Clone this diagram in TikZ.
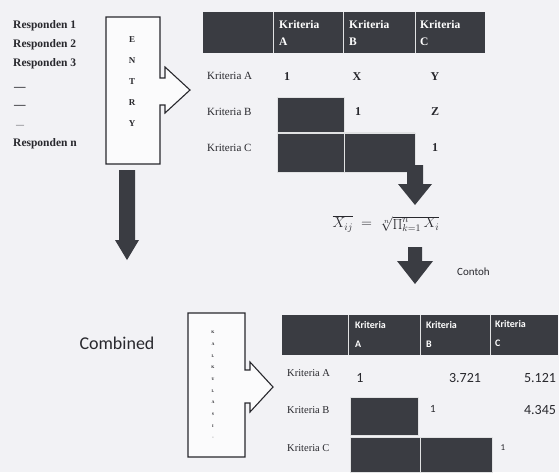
\documentclass[tikz,border=0pt]{standalone}
\usepackage{fontspec}
\setmainfont{Liberation Serif}
\newfontfamily\carl{Carlito}
\definecolor{dk}{RGB}{58,60,66}
\definecolor{bg}{RGB}{242,242,245}
\definecolor{ink}{RGB}{40,40,45}
\begin{document}
\begin{tikzpicture}[x=1pt,y=-1pt,
  resp/.style={anchor=west,inner sep=0,text=ink,font=\fontsize{11.5}{12}\selectfont\bfseries},
  boxline/.style={draw=ink,line width=1.1pt,fill=white!70!bg,line join=miter},
  blockarrow/.style={fill=dk,draw=none},
  darkcell/.style={fill=dk,draw=white!85!dk,line width=0.6pt},
  hdrfill/.style={fill=dk},
  sepline/.style={draw=white!85!dk,line width=1pt},
  hdrtxt/.style={anchor=west,align=left,inner sep=0,text=white},
  lbl/.style={anchor=west,inner sep=0,text=ink},
  val/.style={inner sep=0,text=ink}]
\fill[bg] (0,0) rectangle (559,472);
\useasboundingbox (0,0) rectangle (559,472);

% ---- Responden list
\node[resp] (r1) at (13,26) {Responden 1};
\node[resp] (r2) at (13,45) {Responden 2};
\node[resp] (r3) at (13,64) {Responden 3};
\node[resp] (d1) at (14,89) {—};
\node[resp] (d2) at (14,107) {—};
\node[resp,font=\fontsize{8}{9}\selectfont] (d3) at (16,126) {—};
\node[resp] (rn) at (13,144) {Responden n};

% ---- ENTRY box with arrow
\draw[boxline] (160,78) -- (165,78) -- (165,67) -- (190,90) -- (165,113) -- (165,105) -- (160,105)
  -- (160,164) -- (106,164) -- (106,17) -- (160,17) -- cycle;
\node[inner sep=0,align=center,text=ink,font=\fontsize{9}{21}\selectfont\bfseries] (entry) at (132,82) {E\\N\\T\\R\\Y};

% ---- down arrow under ENTRY
\fill[blockarrow] (119,170) -- (135,170) -- (135,240) -- (139,240) -- (127,260) -- (115,240) -- (119,240) -- cycle;

% ---- top table
\fill[hdrfill] (203,12) rectangle (485,53);
\draw[sepline] (273,12) -- (273,53);
\draw[sepline] (343,12) -- (343,53);
\draw[sepline] (415,12) -- (415,53);
\node[hdrtxt,font=\fontsize{11.5}{17}\selectfont\bfseries] (tha) at (279,33) {Kriteria\\A};
\node[hdrtxt,font=\fontsize{11.5}{17}\selectfont\bfseries] (thb) at (349,33) {Kriteria\\B};
\node[hdrtxt,font=\fontsize{11.5}{17}\selectfont\bfseries] (thc) at (420,33) {Kriteria\\C};

\node[lbl,font=\fontsize{11}{12}\selectfont] (tla) at (207,76) {Kriteria A};
\node[lbl,font=\fontsize{11}{12}\selectfont] (tlb) at (207,112) {Kriteria B};
\node[lbl,font=\fontsize{11}{12}\selectfont] (tlc) at (207,148) {Kriteria C};

\fill[darkcell] (277,97) rectangle (344,132);
\fill[darkcell] (277,133) rectangle (344,172);
\fill[darkcell] (344,133) rectangle (415,172);
\draw[draw=white!85!dk,line width=0.6pt] (277,132.5) -- (415,132.5) (344,133) -- (344,172);

\node[val,font=\fontsize{12}{13}\selectfont\bfseries] (taa) at (287,77) {1};
\node[val,font=\fontsize{12}{13}\selectfont\bfseries] (tab) at (357,77) {X};
\node[val,font=\fontsize{12}{13}\selectfont\bfseries] (tac) at (435,77) {Y};
\node[val,font=\fontsize{12}{13}\selectfont\bfseries] (tbb) at (358,112) {1};
\node[val,font=\fontsize{12}{13}\selectfont\bfseries] (tbc) at (435,112) {Z};
\node[val,font=\fontsize{12}{13}\selectfont\bfseries] (tcc) at (435,148) {1};

% ---- arrow to formula
\fill[blockarrow] (407,165) -- (423,165) -- (423,184) -- (432,184) -- (415,205) -- (398,184) -- (407,184) -- cycle;
\node[inner sep=0,text=ink,font=\fontsize{14}{15}\selectfont] (formula) at (386,224)
  {$\overline{X_{ij}}\;=\;\sqrt[n]{\prod_{k=1}^{n} X_i}$};

% ---- arrow to example
\fill[blockarrow] (408,247) -- (422,247) -- (422,261) -- (433,261) -- (415,284) -- (397,261) -- (408,261) -- cycle;
\node[anchor=west,inner sep=0,text=ink,font=\carl\fontsize{11}{12}\selectfont] (contoh) at (457,272) {Contoh};

% ---- Combined
\node[inner sep=0,text=ink,font=\carl\fontsize{18}{20}\selectfont] (comb) at (117,343) {Combined};

\draw[boxline] (245,370) -- (250,370) -- (250,362) -- (273,387) -- (250,412) -- (250,403) -- (245,403)
  -- (245,457) -- (188,457) -- (188,313) -- (245,313) -- cycle;
\node[inner sep=0,align=center,text=ink,font=\fontsize{4}{11.7}\selectfont\bfseries] (calc) at (213,385) {K\\A\\L\\K\\U\\L\\A\\S\\I\\-};

% ---- bottom table
\fill[hdrfill] (282,315) rectangle (558,355);
\draw[sepline] (348,315) -- (348,355);
\draw[sepline] (420,315) -- (420,355);
\draw[sepline] (490,315) -- (490,355);
\node[hdrtxt,font=\carl\fontsize{10}{19}\selectfont\bfseries] (bha) at (355,334) {Kriteria\\A};
\node[hdrtxt,font=\carl\fontsize{10}{19}\selectfont\bfseries] (bhb) at (426,334) {Kriteria\\B};
\node[hdrtxt,font=\carl\fontsize{10}{19}\selectfont\bfseries] (bhc) at (495,334) {Kriteria\\C};

\node[lbl,font=\fontsize{10.5}{11}\selectfont] (bla) at (287,373) {Kriteria A};
\node[lbl,font=\fontsize{10.5}{11}\selectfont] (blb) at (287,410) {Kriteria B};
\node[lbl,font=\fontsize{10.5}{11}\selectfont] (blc) at (287,448) {Kriteria C};

\fill[darkcell] (350,397) rectangle (418,435);
\fill[darkcell] (350,437) rectangle (420,472);
\fill[darkcell] (420,437) rectangle (492,472);

\node[val,font=\carl\fontsize{14}{15}\selectfont] (baa) at (360,378) {1};
\node[val,font=\carl\fontsize{14}{15}\selectfont] (bab) at (465,378) {3.721};
\node[val,font=\carl\fontsize{14}{15}\selectfont] (bac) at (540,378) {5.121};
\node[val,font=\carl\fontsize{11}{12}\selectfont] (bbb) at (433,409) {1};
\node[val,font=\carl\fontsize{14}{15}\selectfont] (bbc) at (540,410) {4.345};
\node[val,font=\carl\fontsize{9}{10}\selectfont] (bcc) at (503,448) {1};
\end{tikzpicture}
\end{document}
